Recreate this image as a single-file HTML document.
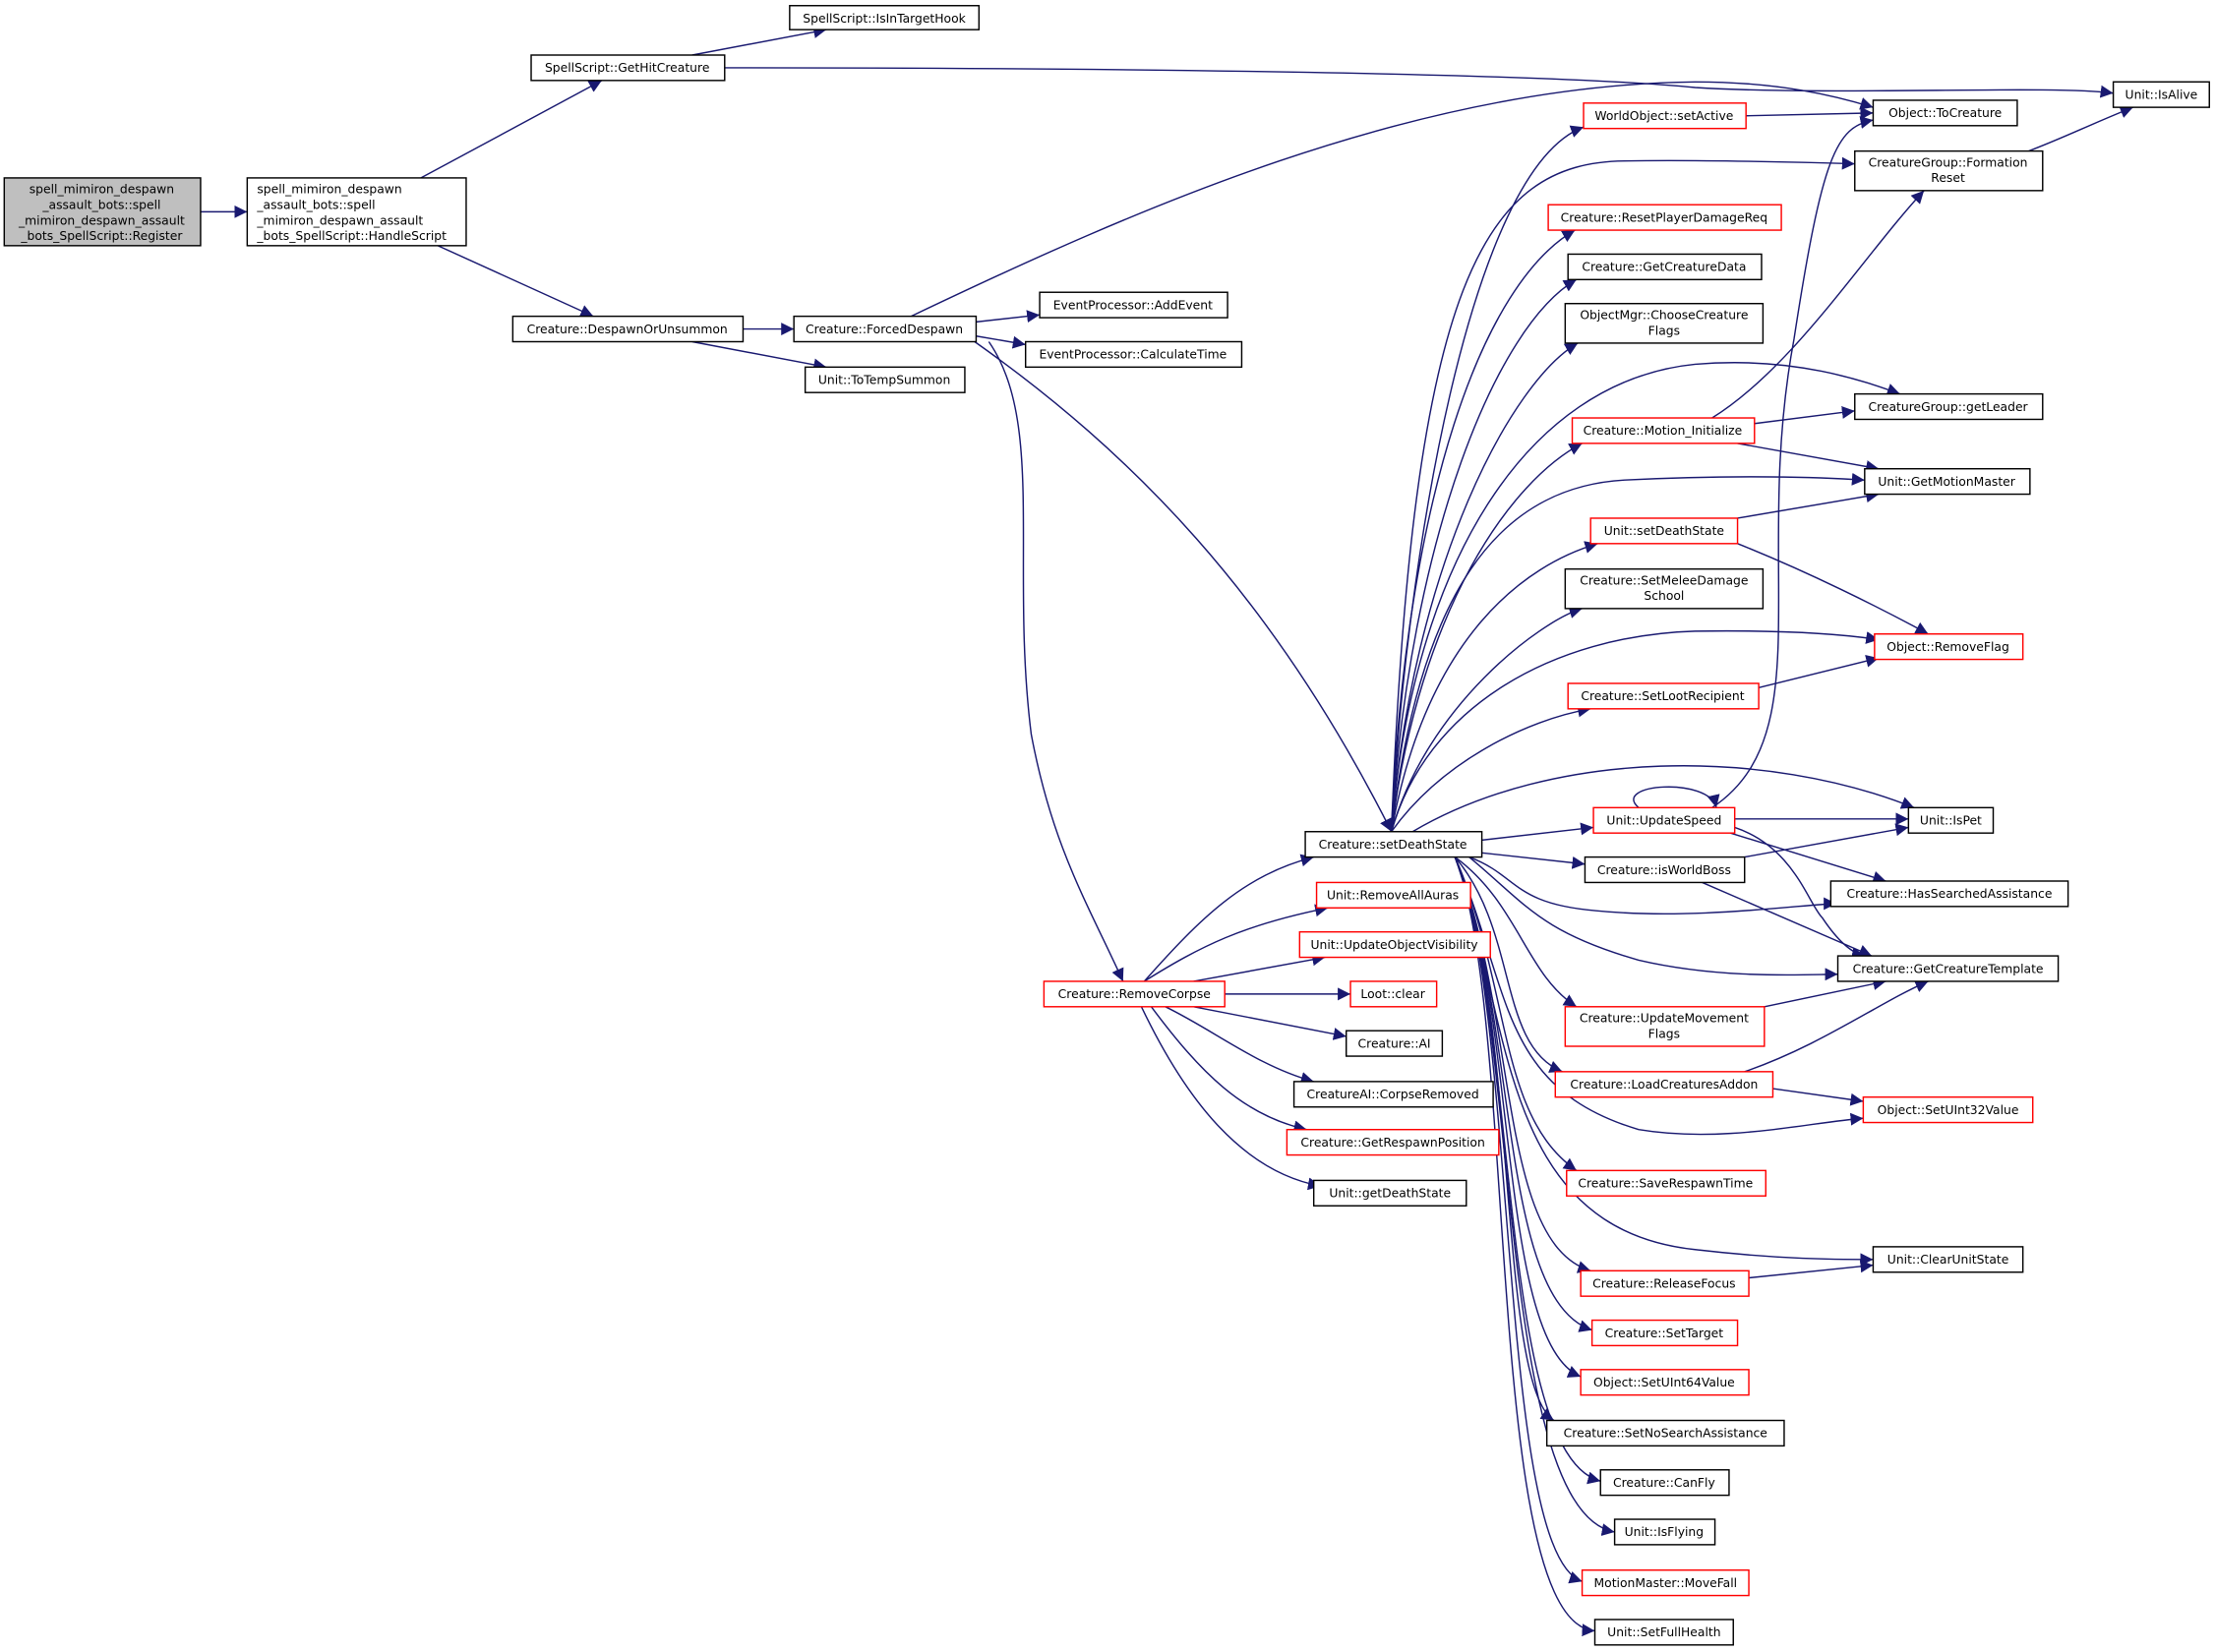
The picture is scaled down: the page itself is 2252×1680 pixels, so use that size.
<!DOCTYPE html>
<html><head><meta charset="utf-8">
<style>
html,body{margin:0;padding:0;background:#fff;}
svg{display:block;}
text{font-family:"DejaVu Sans","Liberation Sans",sans-serif;font-size:8.6px;fill:#000;text-anchor:middle;}
.e{fill:none;stroke:#191970;stroke-width:1;}
.n{fill:#fff;stroke:#000;stroke-width:1;}
.r{fill:#fff;stroke:#ff0000;stroke-width:1;}
.g{fill:#bfbfbf;stroke:#000;stroke-width:1;}
</style></head><body>
<svg width="2252" height="1680" viewBox="0 0 1568 1170" preserveAspectRatio="none" xmlns="http://www.w3.org/2000/svg">
<defs><marker id="a" viewBox="0 0 10 10" refX="10" refY="5" markerWidth="9" markerHeight="9" markerUnits="userSpaceOnUse" orient="auto"><path d="M0,0 L10,5 L0,10 z" fill="#191970"/></marker></defs>
<g class="e" marker-end="url(#a)">
<path d="M142,150 L175,150"/>
<path d="M298,126 L426,57"/>
<path d="M310,174 L420,224"/>
<path d="M490,39 L585,21"/>
<path d="M513,48 C800,48 1100,52 1200,62 C1300,68 1450,60 1496,66"/>
<path d="M526,233 L562,233"/>
<path d="M490,242 L585,260"/>
<path d="M691,228 L736,223"/>
<path d="M691,238 L726,244"/>
<path d="M645,224 C800,150 1000,60 1200,58 C1260,58 1300,68 1326,76"/>
<path d="M690,242 C800,320 900,420 985,589"/>
<path d="M700,242 C740,300 715,400 730,520 C745,600 770,640 795,695"/>
<path d="M810,695 C850,650 880,620 930,607"/>
<path d="M810,695 C850,670 880,655 940,643"/>
<path d="M845,695 L938,678"/>
<path d="M867,704 L956,704"/>
<path d="M845,713 L953,734"/>
<path d="M825,713 C860,730 890,755 930,766"/>
<path d="M815,713 C850,760 880,790 925,800"/>
<path d="M808,713 C840,780 880,830 935,840"/>
<path d="M985,589 C995,400 1040,120 1121,90"/>
<path d="M985,589 C1000,200 1050,115 1150,114 C1200,113 1280,115 1313,116"/>
<path d="M985,589 C995,350 1050,200 1115,163"/>
<path d="M985,589 C998,380 1060,230 1116,198"/>
<path d="M985,589 C1000,400 1070,270 1117,243"/>
<path d="M985,589 C1000,400 1080,270 1200,258 C1270,252 1320,270 1345,279"/>
<path d="M985,589 C1005,430 1070,340 1120,314"/>
<path d="M985,589 C1005,420 1060,345 1150,340 C1230,336 1290,338 1320,340"/>
<path d="M985,589 C1010,450 1080,400 1131,385"/>
<path d="M985,589 C1010,500 1090,440 1120,431"/>
<path d="M985,589 C1010,500 1100,450 1200,447 C1270,446 1310,450 1330,453"/>
<path d="M985,589 C1020,540 1080,510 1126,502"/>
<path d="M1000,589 C1100,530 1250,530 1355,572"/>
<path d="M1049,595 L1128,586"/>
<path d="M1049,604 L1122,612"/>
<path d="M1040,607 C1075,620 1070,640 1130,645 C1200,652 1280,640 1300,640"/>
<path d="M1040,607 C1080,640 1090,660 1160,680 C1220,694 1280,690 1301,690"/>
<path d="M1030,607 C1075,640 1080,690 1116,713"/>
<path d="M1030,607 C1075,660 1060,740 1106,759"/>
<path d="M1030,607 C1070,700 1060,770 1160,800 C1220,810 1280,795 1319,792"/>
<path d="M1030,607 C1070,700 1060,790 1116,829"/>
<path d="M1030,607 C1070,720 1060,870 1200,885 C1260,892 1300,892 1326,892"/>
<path d="M1030,607 C1075,720 1060,880 1126,900"/>
<path d="M1030,607 C1075,720 1060,920 1127,942"/>
<path d="M1030,607 C1075,720 1060,950 1119,975"/>
<path d="M1030,607 C1075,720 1060,980 1100,1006"/>
<path d="M1030,607 C1075,720 1060,1030 1133,1049"/>
<path d="M1030,607 C1075,720 1060,1070 1143,1085"/>
<path d="M1030,607 C1075,720 1060,1100 1120,1120"/>
<path d="M1030,607 C1075,720 1050,1150 1129,1155"/>
<path d="M1236,82 L1326,80"/>
<path d="M1436,107 C1460,98 1480,88 1510,76"/>
<path d="M1212,296 C1270,260 1320,180 1362,135"/>
<path d="M1242,300 L1313,291"/>
<path d="M1230,314 L1330,332"/>
<path d="M1230,367 L1330,350"/>
<path d="M1230,385 C1280,405 1330,430 1365,449"/>
<path d="M1245,487 L1330,466"/>
<path d="M1228,580 L1351,580"/>
<path d="M1212,572 C1290,520 1240,400 1270,240 C1290,110 1300,90 1326,85"/>
<path d="M1160,572 C1140,555 1210,550 1215,572"/>
<path d="M1228,586 C1270,600 1280,640 1290,650 C1300,665 1310,675 1320,677"/>
<path d="M1225,590 L1335,624"/>
<path d="M1235,607 L1351,586"/>
<path d="M1205,625 L1325,677"/>
<path d="M1249,713 L1335,695"/>
<path d="M1235,759 C1290,740 1330,710 1365,695"/>
<path d="M1255,771 L1319,780"/>
<path d="M1238,905 L1326,896"/>
</g>
<g>
<rect class="g" x="3" y="126" width="139" height="48"/>
<text x="72" y="137">spell_mimiron_despawn</text><text x="72" y="148">_assault_bots::spell</text><text x="72" y="159">_mimiron_despawn_assault</text><text x="72" y="170">_bots_SpellScript::Register</text>
<rect class="n" x="175" y="126" width="155" height="48"/>
<text x="252" y="137" style="text-anchor:start" transform="translate(-70,0)">spell_mimiron_despawn</text><text x="182" y="148" style="text-anchor:start">_assault_bots::spell</text><text x="182" y="159" style="text-anchor:start">_mimiron_despawn_assault</text><text x="182" y="170" style="text-anchor:start">_bots_SpellScript::HandleScript</text>
</g>
<g>
<rect class="n" x="376" y="39" width="137" height="18"/><text x="444" y="51">SpellScript::GetHitCreature</text>
<rect class="n" x="559" y="4" width="134" height="17"/><text x="626" y="16">SpellScript::IsInTargetHook</text>
<rect class="n" x="363" y="224" width="163" height="18"/><text x="444" y="236">Creature::DespawnOrUnsummon</text>
<rect class="n" x="562" y="224" width="129" height="18"/><text x="626" y="236">Creature::ForcedDespawn</text>
<rect class="n" x="570" y="260" width="113" height="18"/><text x="626" y="272">Unit::ToTempSummon</text>
<rect class="n" x="736" y="207" width="133" height="18"/><text x="802" y="219">EventProcessor::AddEvent</text>
<rect class="n" x="726" y="242" width="153" height="18"/><text x="802" y="254">EventProcessor::CalculateTime</text>
<rect class="n" x="924" y="589" width="125" height="18"/><text x="986" y="601">Creature::setDeathState</text>
<rect class="r" x="739" y="695" width="128" height="18"/><text x="803" y="707">Creature::RemoveCorpse</text>
<rect class="r" x="932" y="625" width="109" height="18"/><text x="986" y="637">Unit::RemoveAllAuras</text>
<rect class="r" x="920" y="660" width="135" height="18"/><text x="987" y="672">Unit::UpdateObjectVisibility</text>
<rect class="r" x="956" y="695" width="61" height="18"/><text x="986" y="707">Loot::clear</text>
<rect class="n" x="953" y="730" width="68" height="18"/><text x="987" y="742">Creature::AI</text>
<rect class="n" x="916" y="766" width="141" height="18"/><text x="986" y="778">CreatureAI::CorpseRemoved</text>
<rect class="r" x="911" y="800" width="150" height="18"/><text x="986" y="812">Creature::GetRespawnPosition</text>
<rect class="n" x="930" y="836" width="108" height="18"/><text x="984" y="848">Unit::getDeathState</text>
<rect class="r" x="1121" y="73" width="115" height="18"/><text x="1178" y="85">WorldObject::setActive</text>
<rect class="r" x="1096" y="145" width="165" height="18"/><text x="1178" y="157">Creature::ResetPlayerDamageReq</text>
<rect class="n" x="1110" y="180" width="137" height="18"/><text x="1178" y="192">Creature::GetCreatureData</text>
<rect class="n" x="1108" y="215" width="140" height="28"/><text x="1178" y="226">ObjectMgr::ChooseCreature</text><text x="1178" y="237">Flags</text>
<rect class="r" x="1113" y="296" width="129" height="18"/><text x="1177" y="308">Creature::Motion_Initialize</text>
<rect class="r" x="1126" y="367" width="104" height="18"/><text x="1178" y="379">Unit::setDeathState</text>
<rect class="n" x="1108" y="403" width="140" height="28"/><text x="1178" y="414">Creature::SetMeleeDamage</text><text x="1178" y="425">School</text>
<rect class="r" x="1110" y="484" width="135" height="18"/><text x="1177" y="496">Creature::SetLootRecipient</text>
<rect class="r" x="1128" y="572" width="100" height="18"/><text x="1178" y="584">Unit::UpdateSpeed</text>
<rect class="n" x="1122" y="607" width="113" height="18"/><text x="1178" y="619">Creature::isWorldBoss</text>
<rect class="r" x="1108" y="713" width="141" height="28"/><text x="1178" y="724">Creature::UpdateMovement</text><text x="1178" y="735">Flags</text>
<rect class="r" x="1101" y="759" width="154" height="18"/><text x="1178" y="771">Creature::LoadCreaturesAddon</text>
<rect class="r" x="1109" y="829" width="141" height="18"/><text x="1179" y="841">Creature::SaveRespawnTime</text>
<rect class="r" x="1119" y="900" width="119" height="18"/><text x="1178" y="912">Creature::ReleaseFocus</text>
<rect class="r" x="1127" y="935" width="103" height="18"/><text x="1178" y="947">Creature::SetTarget</text>
<rect class="r" x="1119" y="970" width="119" height="18"/><text x="1178" y="982">Object::SetUInt64Value</text>
<rect class="n" x="1095" y="1006" width="168" height="18"/><text x="1179" y="1018">Creature::SetNoSearchAssistance</text>
<rect class="n" x="1133" y="1041" width="91" height="18"/><text x="1178" y="1053">Creature::CanFly</text>
<rect class="n" x="1143" y="1076" width="71" height="18"/><text x="1178" y="1088">Unit::IsFlying</text>
<rect class="r" x="1120" y="1112" width="118" height="18"/><text x="1179" y="1124">MotionMaster::MoveFall</text>
<rect class="n" x="1129" y="1147" width="98" height="18"/><text x="1178" y="1159">Unit::SetFullHealth</text>
<rect class="n" x="1496" y="58" width="68" height="18"/><text x="1530" y="70">Unit::IsAlive</text>
<rect class="n" x="1326" y="71" width="102" height="18"/><text x="1377" y="83">Object::ToCreature</text>
<rect class="n" x="1313" y="107" width="133" height="28"/><text x="1379" y="118">CreatureGroup::Formation</text><text x="1379" y="129">Reset</text>
<rect class="n" x="1313" y="279" width="133" height="18"/><text x="1379" y="291">CreatureGroup::getLeader</text>
<rect class="n" x="1320" y="332" width="117" height="18"/><text x="1378" y="344">Unit::GetMotionMaster</text>
<rect class="r" x="1327" y="449" width="105" height="18"/><text x="1379" y="461">Object::RemoveFlag</text>
<rect class="n" x="1351" y="572" width="60" height="18"/><text x="1381" y="584">Unit::IsPet</text>
<rect class="n" x="1296" y="624" width="168" height="18"/><text x="1380" y="636">Creature::HasSearchedAssistance</text>
<rect class="n" x="1301" y="677" width="156" height="18"/><text x="1379" y="689">Creature::GetCreatureTemplate</text>
<rect class="r" x="1319" y="777" width="120" height="18"/><text x="1379" y="789">Object::SetUInt32Value</text>
<rect class="n" x="1326" y="883" width="106" height="18"/><text x="1379" y="895">Unit::ClearUnitState</text>
</g>
</svg>
</body></html>
